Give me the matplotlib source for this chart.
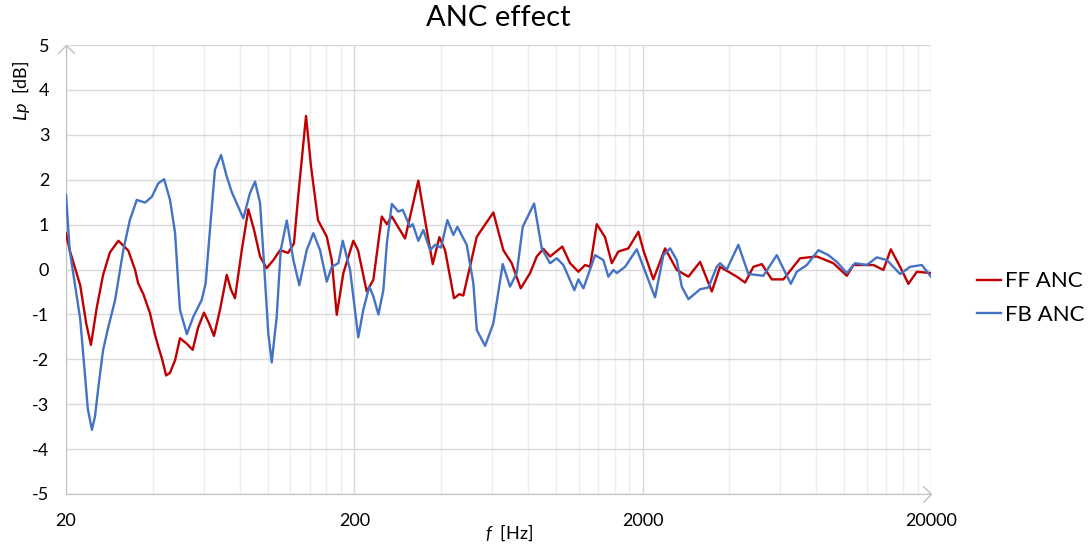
import numpy as np
import matplotlib.pyplot as plt
from matplotlib.path import Path

plt.rcParams['font.family'] = ['Lato', 'DejaVu Sans']
plt.rcParams['mathtext.fontset'] = 'custom'
plt.rcParams['mathtext.it'] = 'Lato:italic'
plt.rcParams['mathtext.rm'] = 'Lato'

# FF ANC (red) - frequency [Hz], level [dB]
ff_freq = [20, 20.6, 22.4, 23.5, 24.4, 25.6, 26.9, 28.4, 30.4, 32.9, 34.7, 35.6,
           37.1, 39.1, 40.7, 41.8, 43.1, 44.5, 45.9, 47.8, 49.7, 52.4, 55.0, 57.4,
           60.2, 62.7, 65.2, 68.4, 72.2, 74.7, 77.1, 81.4, 85.8, 89.8, 94.2, 99.3,
           104.5, 110.5, 117.8, 123.5, 127.6, 136.0, 141.5, 149.6, 160.5, 167.0,
           173.8, 183.2, 198.4, 206.0, 220.8, 232.8, 249.0, 259.3, 269.8, 299.9,
           333.4, 356.6, 374.1, 394.4, 412.8, 443.4, 462.6, 477.6, 531.8, 607.0,
           657.4, 703.0, 755.4, 813.8, 858.6, 905.0, 954.6, 1053, 1120, 1197, 1262,
           1314, 1386, 1481, 1563, 1647, 1784, 1933, 2011, 2178, 2392, 2626, 2882,
           3164, 3474, 3710, 4243, 4532, 4842, 5178, 5608, 6152, 7032, 8036, 9172,
           10210, 10762, 12626, 13678, 14508, 15626, 16700, 17858, 20000]
ff_db = [0.81, 0.43, -0.35, -1.2, -1.68, -0.83, -0.12, 0.38, 0.64, 0.42, 0.0, -0.31,
         -0.55, -0.97, -1.45, -1.72, -2.0, -2.36, -2.3, -2.02, -1.53, -1.65, -1.79, -1.3,
         -0.96, -1.2, -1.48, -0.9, -0.12, -0.45, -0.64, 0.43, 1.34, 0.88, 0.29, 0.03,
         0.2, 0.43, 0.37, 0.58, 1.6, 3.42, 2.3, 1.1, 0.73, 0.21,
         -1.01, -0.08, 0.64, 0.43, -0.49, -0.23, 1.18, 1.01, 1.18, 0.69,
         1.98, 0.88, 0.12, 0.72, 0.43, -0.64, -0.55, -0.58, 0.73, 1.27,
         0.43, 0.14, -0.42, -0.08, 0.29, 0.46, 0.29, 0.51, 0.14, -0.05, 0.1,
         0.06, 1.01, 0.72, 0.14, 0.4, 0.47, 0.84, 0.43, -0.22, 0.47, -0.01, -0.16,
         0.17, -0.49, 0.06, -0.16, -0.29, 0.06, 0.12, -0.22, -0.22, 0.25, 0.29, 0.14,
         -0.14, 0.1, 0.1, -0.01, 0.45, 0.06, -0.32, -0.05, -0.08]

# FB ANC (blue)
fb_freq = [20, 20.6, 22.4, 23.1, 23.8, 24.6, 25.2, 26.0, 26.9, 28.0, 29.6, 31.6,
           33.3, 35.2, 37.6, 39.7, 41.8, 43.8, 45.9, 47.8, 49.0, 49.7, 52.5, 55.3,
           59.1, 61.0, 62.3, 65.7, 69.0, 72.2, 75.1, 78.2, 82.4, 86.9, 90.5, 94.2,
           97.2, 100.6, 103.4, 107.6, 111.1, 116.6, 122.9, 128.9, 136.7, 144.2,
           152.1, 160.5, 167.0, 176.0, 182.3, 193.3, 206.4, 214.8, 225.4, 232.8,
           242.4, 252.2, 259.3, 269.8, 284.2, 294.4, 312.0, 318.8, 333.4, 347.0,
           366.2, 381.0, 399.6, 420.4, 441.0, 455.4, 490.8, 517.4, 531.8, 568.2,
           607.0, 654.2, 693.4, 731.6, 767.4, 840.4, 893.4, 954.6, 1007, 1062,
           1159, 1197, 1246, 1368, 1461, 1521, 1583, 1627, 1738, 1908, 2011, 2208,
           2360, 2490, 2626, 2732, 2882, 3164, 3380, 3614, 3710, 3916, 4294, 4652,
           5244, 5836, 6528, 6848, 7418, 8138, 8814, 9428, 10210, 10910, 11978,
           12974, 14058, 15626, 16926, 18584, 20000]
fb_db = [1.66, 0.43, -1.1, -2.1, -3.1, -3.57, -3.28, -2.53, -1.79, -1.3, -0.68, 0.43,
         1.1, 1.55, 1.49, 1.62, 1.92, 2.01, 1.55, 0.81, -0.31, -0.9, -1.44, -1.05,
         -0.68, -0.31, 0.43, 2.22, 2.55, 2.07, 1.73, 1.47, 1.14, 1.7, 1.96, 1.48,
         0.14, -1.42, -2.07, -1.05, 0.43, 1.09, 0.21, -0.35, 0.43, 0.81,
         0.43, -0.27, 0.06, 0.14, 0.64, -0.01, -1.51, -0.9, -0.38, -0.6,
         -1.0, -0.46, 0.58, 1.46, 1.29, 1.33, 0.95, 1.01, 0.64, 0.88,
         0.43, 0.55, 0.49, 1.1, 0.77, 0.95, 0.55, -0.31, -1.35, -1.7,
         -1.2, 0.12, -0.38, -0.08, 0.95, 1.47, 0.47, 0.14, 0.25, 0.1,
         -0.46, -0.22, -0.42, 0.32, 0.21, -0.16, -0.01, -0.08, 0.06, 0.45, 0.06, -0.62,
         0.32, 0.47, 0.21, -0.38, -0.66, -0.44, -0.4, 0.06, 0.14, 0.0, 0.55, -0.1,
         -0.14, 0.32, -0.32, -0.05, 0.1, 0.43, 0.32, 0.17, -0.08, 0.14, 0.1,
         0.27, 0.21, -0.1, 0.06, 0.1, -0.16]

x_major = [20, 200, 2000, 20000]
y_ticks = list(range(-5, 6))

fig = plt.figure(figsize=(10.92, 5.45), dpi=100)
ax = fig.add_axes([66 / 1092, 1 - 494 / 545, 865 / 1092, 449 / 545])

ax.plot(ff_freq, ff_db, color='#C00000', lw=1.7, label='FF ANC', zorder=3,
        solid_joinstyle='round')
ax.plot(fb_freq, fb_db, color='#4472C4', lw=1.7, label='FB ANC', zorder=3,
        solid_joinstyle='round')

ax.set_xscale('log')
ax.set_xlim(20, 20000)
ax.set_ylim(-5, 5)
ax.set_xticks(x_major)
ax.set_xticklabels([str(v) for v in x_major])
minor = [20 * k * 10 ** n for n in range(3) for k in range(2, 10)]
ax.set_xticks(minor, minor=True)
ax.set_xticklabels([], minor=True)
ax.set_yticks(y_ticks)
ax.set_yticklabels([str(v) for v in y_ticks])

ax.grid(True, which='major', axis='both', color='#d9d9d9', lw=1.0, zorder=0)
ax.grid(True, which='minor', axis='x', color='#eeeeee', lw=1.0, zorder=0)
ax.tick_params(axis='both', which='both', length=0, labelsize=13, labelcolor='black')
ax.tick_params(axis='x', pad=14)
ax.tick_params(axis='y', pad=12)

for s in ['top', 'right']:
    ax.spines[s].set_visible(False)
ax.spines['left'].set_color('#bfbfbf')
ax.spines['bottom'].set_color('#bfbfbf')

# open chevron arrow heads at the axis ends
up = Path([(-1, -1), (0, 0), (1, -1)], [Path.MOVETO, Path.LINETO, Path.LINETO])
right = Path([(-1, 1), (0, 0), (-1, -1)], [Path.MOVETO, Path.LINETO, Path.LINETO])
ax.plot(0, 1, marker=up, transform=ax.transAxes, clip_on=False,
        ms=12, mfc='none', mec='#bfbfbf', mew=1.0)
ax.plot(1, 0, marker=right, transform=ax.transAxes, clip_on=False,
        ms=12, mfc='none', mec='#bfbfbf', mew=1.0)

fig.text(498 / 1092, 1 - 18 / 545, 'ANC effect', ha='center', va='center', fontsize=21)
fig.text(509 / 1092, 1 - 533 / 545, r'$f$  [Hz]', ha='center', va='center', fontsize=13)
fig.text(21 / 1092, 1 - 91 / 545, r'$Lp$  [dB]', ha='center', va='center',
         rotation=90, fontsize=13)

fig.legend(loc='center left', bbox_to_anchor=(968 / 1092, 1 - 298 / 545),
           frameon=False, fontsize=16, handlelength=1.1, handletextpad=0.15,
           labelspacing=0.6, borderaxespad=0)

fig.savefig('out.png', dpi=100)
